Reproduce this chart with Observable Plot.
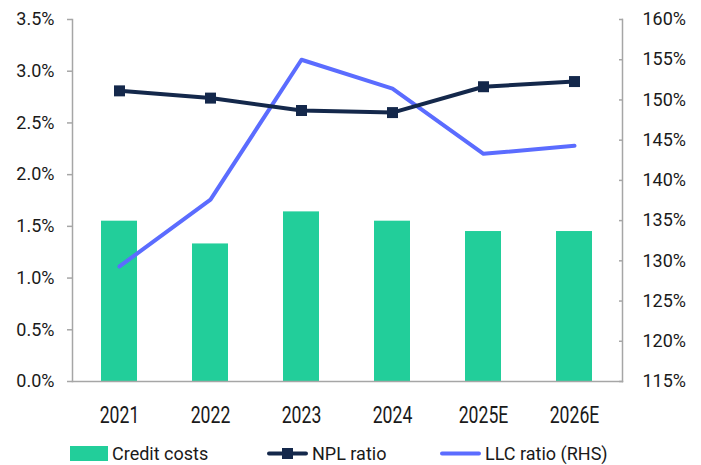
<!DOCTYPE html>
<html>
<head>
<meta charset="utf-8">
<script src="https://cdn.jsdelivr.net/npm/d3@7"></script>
<script src="https://cdn.jsdelivr.net/npm/@observablehq/plot@0.6"></script>
<style>
  html, body { margin: 0; padding: 0; background: #fff; }
  #wrap { position: relative; width: 701px; height: 465px; font-family: Roboto, sans-serif; color: #1a1a1a; }
  .leg { position: absolute; top: 441px; height: 24px; display: flex; align-items: center; font-size: 18px; white-space: nowrap; }
  .leg svg { margin-right: 4px; }
</style>
</head>
<body>
<div id="wrap"><div id="chart"></div></div>
<script>
const years = ["2021", "2022", "2023", "2024", "2025E", "2026E"];
const creditCosts = [1.55, 1.33, 1.64, 1.55, 1.45, 1.45];
const nplRatio = [2.81, 2.74, 2.62, 2.60, 2.85, 2.90];
const llcRatio = [129.3, 137.6, 155.0, 151.4, 143.3, 144.3];
const leftTicks = [0, 0.5, 1.0, 1.5, 2.0, 2.5, 3.0, 3.5];
const rightTicks = [115, 120, 125, 130, 135, 140, 145, 150, 155, 160];
const leftDomain = [0, 3.5];
const rightDomain = [115, 160];

const toLeft = d3.scaleLinear(rightDomain, leftDomain);

const data = years.map((y, i) => ({
  year: y, cc: creditCosts[i], npl: nplRatio[i], llc: llcRatio[i], llcL: toLeft(llcRatio[i])
}));

const green = "#22CE9A", navy = "#14284B", blue = "#5B6CFF", axisGray = "#A6A6A6";

const chart = Plot.plot({
  width: 701,
  height: 432,
  marginTop: 19,
  marginBottom: 51,
  marginLeft: 72,
  marginRight: 79,
  style: { fontFamily: "Roboto, sans-serif", fontSize: "18px", color: "#1a1a1a", background: "#fff" },
  x: { type: "band", domain: years, paddingInner: 0.6, paddingOuter: 0.3, label: null },
  y: { domain: leftDomain, label: null },
  marks: [
    Plot.barY(data, { x: "year", y: "cc", fill: green }),
    Plot.frame({ anchor: "left", stroke: axisGray, strokeWidth: 1.5 }),
    Plot.frame({ anchor: "right", stroke: axisGray, strokeWidth: 1.5 }),
    Plot.frame({ anchor: "bottom", stroke: axisGray, strokeWidth: 1.5 }),
    Plot.axisY({ anchor: "left", ticks: leftTicks, tickSize: 5, tickPadding: 13, stroke: axisGray, strokeWidth: 1.5,
      tickFormat: d => d.toFixed(1) + "%", fontSize: 18, label: null }),
    Plot.axisY({ anchor: "right", ticks: rightTicks.map(toLeft), tickSize: 4, dx: -4, text: null, stroke: axisGray, strokeWidth: 1.5, label: null }),
    Plot.axisY({ anchor: "right", ticks: rightTicks.map(toLeft), tickSize: 0, tickPadding: 20,
      tickFormat: d => Math.round(toLeft.invert(d)) + "%", fontSize: 18, label: null }),
    Plot.axisX({ anchor: "bottom", tickSize: 0, tickPadding: 25, fontSize: 18, label: null }),
    Plot.line(data, { x: "year", y: "llcL", stroke: blue, strokeWidth: 4, strokeLinecap: "round", strokeLinejoin: "round" }),
    Plot.line(data, { x: "year", y: "npl", stroke: navy, strokeWidth: 4 }),
    Plot.dot(data, { x: "year", y: "npl", symbol: "square", r: 6.2, fill: navy, stroke: null })
  ]
});
document.getElementById("chart").appendChild(chart);

// stretch x tick labels vertically (tall, narrow look of the original), about their top-centre
d3.select(chart).selectAll('g[aria-label="x-axis tick label"] text').each(function () {
  const b = this.getBBox();
  const cx = b.x + b.width / 2, top = b.y + b.height * 0.12;
  const t = this.getAttribute("transform") || "";
  this.setAttribute("transform", `${t} translate(${cx},${top}) scale(0.98,1.28) translate(${-cx},${-top})`);
});

const legendItems = [
  { label: "Credit costs", left: 70, type: "bar", color: green },
  { label: "NPL ratio", left: 267, type: "marker", color: navy },
  { label: "LLC ratio (RHS)", left: 440, type: "line", color: blue }
];
const wrap = document.getElementById("wrap");
for (const it of legendItems) {
  const div = document.createElement("div");
  div.className = "leg";
  div.style.left = it.left + "px";
  let sw;
  if (it.type === "bar") {
    sw = `<svg width="38" height="15"><rect x="0" y="0" width="38" height="15" fill="${it.color}"/></svg>`;
  } else if (it.type === "marker") {
    sw = `<svg width="41" height="15"><line x1="2" x2="39" y1="7.5" y2="7.5" stroke="${it.color}" stroke-width="4" stroke-linecap="round"/><rect x="15" y="2" width="11" height="11" fill="${it.color}"/></svg>`;
  } else {
    sw = `<svg width="41" height="15"><line x1="2" x2="39" y1="7.5" y2="7.5" stroke="${it.color}" stroke-width="4" stroke-linecap="round"/></svg>`;
  }
  div.innerHTML = sw + `<span>${it.label}</span>`;
  wrap.appendChild(div);
}
</script>
</body>
</html>
